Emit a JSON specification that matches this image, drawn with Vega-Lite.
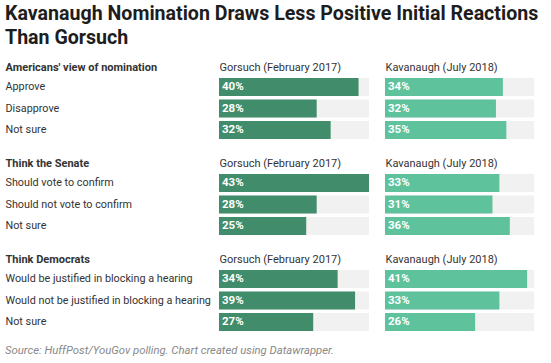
{
  "$schema": "https://vega.github.io/schema/vega-lite/v6.json",
  "padding": {"left": 5, "top": 4, "right": 10, "bottom": 5},
  "background": "white",
  "title": {
    "text": ["Kavanaugh Nomination Draws Less Positive Initial Reactions", "Than Gorsuch"],
    "anchor": "start",
    "fontSize": 19.6,
    "fontWeight": "bold",
    "color": "#1d1d1d",
    "lineHeight": 23.5,
    "offset": 12.5
  },
  "config": {
    "font": "Roboto",
    "view": {"stroke": null},
    "axis": {"grid": false, "domain": false, "ticks": false, "tickSize": 0, "labelFont": "Roboto", "titleFont": "Roboto"},
    "concat": {"spacing": 18}
  },
  "datasets": {
    "polls": [
      {"section": "approve", "answer": "Approve", "candidate": "Gorsuch", "value": 0.40},
      {"section": "approve", "answer": "Disapprove", "candidate": "Gorsuch", "value": 0.28},
      {"section": "approve", "answer": "Not sure", "candidate": "Gorsuch", "value": 0.32},
      {"section": "approve", "answer": "Approve", "candidate": "Kavanaugh", "value": 0.34},
      {"section": "approve", "answer": "Disapprove", "candidate": "Kavanaugh", "value": 0.32},
      {"section": "approve", "answer": "Not sure", "candidate": "Kavanaugh", "value": 0.35},
      {"section": "senate", "answer": "Should vote to confirm", "candidate": "Gorsuch", "value": 0.43},
      {"section": "senate", "answer": "Should not vote to confirm", "candidate": "Gorsuch", "value": 0.28},
      {"section": "senate", "answer": "Not sure", "candidate": "Gorsuch", "value": 0.25},
      {"section": "senate", "answer": "Should vote to confirm", "candidate": "Kavanaugh", "value": 0.33},
      {"section": "senate", "answer": "Should not vote to confirm", "candidate": "Kavanaugh", "value": 0.31},
      {"section": "senate", "answer": "Not sure", "candidate": "Kavanaugh", "value": 0.36},
      {"section": "dems", "answer": "Would be justified in blocking a hearing", "candidate": "Gorsuch", "value": 0.34},
      {"section": "dems", "answer": "Would not be justified in blocking a hearing", "candidate": "Gorsuch", "value": 0.39},
      {"section": "dems", "answer": "Not sure", "candidate": "Gorsuch", "value": 0.27},
      {"section": "dems", "answer": "Would be justified in blocking a hearing", "candidate": "Kavanaugh", "value": 0.41},
      {"section": "dems", "answer": "Would not be justified in blocking a hearing", "candidate": "Kavanaugh", "value": 0.33},
      {"section": "dems", "answer": "Not sure", "candidate": "Kavanaugh", "value": 0.26}
    ]
  },
  "vconcat": [
    {
      "hconcat": [
        {
          "width": 157, "height": 61,
          "data": {"name": "polls"},
          "transform": [{"filter": "datum.section === 'approve' && datum.candidate === 'Gorsuch'"}],
          "encoding": {"y": {"field": "answer", "type": "nominal", "sort": null, "scale": {"paddingInner": 0.17, "paddingOuter": 0},
            "axis": {"title": "Americans' view of nomination", "titleAngle": 0, "titleAlign": "left", "titleBaseline": "alphabetic", "titleX": -214, "titleY": -8, "titleFontWeight": "bold", "titleFontSize": 11, "titleColor": "#333333", "labelAlign": "left", "labelPadding": 214, "labelLimit": 0, "labelFontSize": 10.8, "labelColor": "#333333"}}},
          "layer": [
            {"mark": {"type": "bar", "color": "#f1f1f1"}, "encoding": {"x": {"datum": 0.43, "type": "quantitative", "scale": {"domain": [0, 0.43]},
              "axis": {"orient": "top", "labels": false, "title": "Gorsuch (February 2017)", "titleAnchor": "start", "titleAlign": "left", "titleBaseline": "alphabetic", "titleY": -8, "titleFontWeight": "normal", "titleFontSize": 11, "titleColor": "#333333"}}}},
            {"mark": {"type": "bar", "color": "#418c6a"}, "encoding": {"x": {"field": "value", "type": "quantitative"}}},
            {"mark": {"type": "text", "align": "left", "dx": 3, "color": "white", "fontWeight": "bold", "fontSize": 11.5}, "encoding": {"x": {"datum": 0, "type": "quantitative"}, "text": {"field": "value", "type": "quantitative", "format": ".0%"}}}
          ]
        },
        {
          "width": 156, "height": 61,
          "data": {"name": "polls"},
          "transform": [{"filter": "datum.section === 'approve' && datum.candidate === 'Kavanaugh'"}],
          "encoding": {"y": {"field": "answer", "type": "nominal", "sort": null, "scale": {"paddingInner": 0.17, "paddingOuter": 0}, "axis": null}},
          "layer": [
            {"mark": {"type": "bar", "color": "#f1f1f1"}, "encoding": {"x": {"datum": 0.43, "type": "quantitative", "scale": {"domain": [0, 0.43]},
              "axis": {"orient": "top", "labels": false, "title": "Kavanaugh (July 2018)", "titleAnchor": "start", "titleAlign": "left", "titleBaseline": "alphabetic", "titleY": -8, "titleFontWeight": "normal", "titleFontSize": 11, "titleColor": "#333333"}}}},
            {"mark": {"type": "bar", "color": "#5ec29c"}, "encoding": {"x": {"field": "value", "type": "quantitative"}}},
            {"mark": {"type": "text", "align": "left", "dx": 3, "color": "white", "fontWeight": "bold", "fontSize": 11.5}, "encoding": {"x": {"datum": 0, "type": "quantitative"}, "text": {"field": "value", "type": "quantitative", "format": ".0%"}}}
          ]
        }
      ],
      "spacing": 9
    },
    {
      "hconcat": [
        {
          "width": 157, "height": 61,
          "data": {"name": "polls"},
          "transform": [{"filter": "datum.section === 'senate' && datum.candidate === 'Gorsuch'"}],
          "encoding": {"y": {"field": "answer", "type": "nominal", "sort": null, "scale": {"paddingInner": 0.17, "paddingOuter": 0},
            "axis": {"title": "Think the Senate", "titleAngle": 0, "titleAlign": "left", "titleBaseline": "alphabetic", "titleX": -214, "titleY": -8, "titleFontWeight": "bold", "titleFontSize": 11, "titleColor": "#333333", "labelAlign": "left", "labelPadding": 214, "labelLimit": 0, "labelFontSize": 10.8, "labelColor": "#333333"}}},
          "layer": [
            {"mark": {"type": "bar", "color": "#f1f1f1"}, "encoding": {"x": {"datum": 0.43, "type": "quantitative", "scale": {"domain": [0, 0.43]},
              "axis": {"orient": "top", "labels": false, "title": "Gorsuch (February 2017)", "titleAnchor": "start", "titleAlign": "left", "titleBaseline": "alphabetic", "titleY": -8, "titleFontWeight": "normal", "titleFontSize": 11, "titleColor": "#333333"}}}},
            {"mark": {"type": "bar", "color": "#418c6a"}, "encoding": {"x": {"field": "value", "type": "quantitative"}}},
            {"mark": {"type": "text", "align": "left", "dx": 3, "color": "white", "fontWeight": "bold", "fontSize": 11.5}, "encoding": {"x": {"datum": 0, "type": "quantitative"}, "text": {"field": "value", "type": "quantitative", "format": ".0%"}}}
          ]
        },
        {
          "width": 156, "height": 61,
          "data": {"name": "polls"},
          "transform": [{"filter": "datum.section === 'senate' && datum.candidate === 'Kavanaugh'"}],
          "encoding": {"y": {"field": "answer", "type": "nominal", "sort": null, "scale": {"paddingInner": 0.17, "paddingOuter": 0}, "axis": null}},
          "layer": [
            {"mark": {"type": "bar", "color": "#f1f1f1"}, "encoding": {"x": {"datum": 0.43, "type": "quantitative", "scale": {"domain": [0, 0.43]},
              "axis": {"orient": "top", "labels": false, "title": "Kavanaugh (July 2018)", "titleAnchor": "start", "titleAlign": "left", "titleBaseline": "alphabetic", "titleY": -8, "titleFontWeight": "normal", "titleFontSize": 11, "titleColor": "#333333"}}}},
            {"mark": {"type": "bar", "color": "#5ec29c"}, "encoding": {"x": {"field": "value", "type": "quantitative"}}},
            {"mark": {"type": "text", "align": "left", "dx": 3, "color": "white", "fontWeight": "bold", "fontSize": 11.5}, "encoding": {"x": {"datum": 0, "type": "quantitative"}, "text": {"field": "value", "type": "quantitative", "format": ".0%"}}}
          ]
        }
      ],
      "spacing": 9
    },
    {
      "hconcat": [
        {
          "width": 157, "height": 61,
          "data": {"name": "polls"},
          "title": {"text": "Source: HuffPost/YouGov polling. Chart created using Datawrapper.", "orient": "bottom", "anchor": "start", "frame": "bounds", "fontSize": 11.3, "fontStyle": "italic", "fontWeight": "normal", "color": "#888888", "offset": 14},
          "transform": [{"filter": "datum.section === 'dems' && datum.candidate === 'Gorsuch'"}],
          "encoding": {"y": {"field": "answer", "type": "nominal", "sort": null, "scale": {"paddingInner": 0.17, "paddingOuter": 0},
            "axis": {"title": "Think Democrats", "titleAngle": 0, "titleAlign": "left", "titleBaseline": "alphabetic", "titleX": -214, "titleY": -8, "titleFontWeight": "bold", "titleFontSize": 11, "titleColor": "#333333", "labelAlign": "left", "labelPadding": 214, "labelLimit": 0, "labelFontSize": 10.8, "labelColor": "#333333"}}},
          "layer": [
            {"mark": {"type": "bar", "color": "#f1f1f1"}, "encoding": {"x": {"datum": 0.43, "type": "quantitative", "scale": {"domain": [0, 0.43]},
              "axis": {"orient": "top", "labels": false, "title": "Gorsuch (February 2017)", "titleAnchor": "start", "titleAlign": "left", "titleBaseline": "alphabetic", "titleY": -8, "titleFontWeight": "normal", "titleFontSize": 11, "titleColor": "#333333"}}}},
            {"mark": {"type": "bar", "color": "#418c6a"}, "encoding": {"x": {"field": "value", "type": "quantitative"}}},
            {"mark": {"type": "text", "align": "left", "dx": 3, "color": "white", "fontWeight": "bold", "fontSize": 11.5}, "encoding": {"x": {"datum": 0, "type": "quantitative"}, "text": {"field": "value", "type": "quantitative", "format": ".0%"}}}
          ]
        },
        {
          "width": 156, "height": 61,
          "data": {"name": "polls"},
          "transform": [{"filter": "datum.section === 'dems' && datum.candidate === 'Kavanaugh'"}],
          "encoding": {"y": {"field": "answer", "type": "nominal", "sort": null, "scale": {"paddingInner": 0.17, "paddingOuter": 0}, "axis": null}},
          "layer": [
            {"mark": {"type": "bar", "color": "#f1f1f1"}, "encoding": {"x": {"datum": 0.43, "type": "quantitative", "scale": {"domain": [0, 0.43]},
              "axis": {"orient": "top", "labels": false, "title": "Kavanaugh (July 2018)", "titleAnchor": "start", "titleAlign": "left", "titleBaseline": "alphabetic", "titleY": -8, "titleFontWeight": "normal", "titleFontSize": 11, "titleColor": "#333333"}}}},
            {"mark": {"type": "bar", "color": "#5ec29c"}, "encoding": {"x": {"field": "value", "type": "quantitative"}}},
            {"mark": {"type": "text", "align": "left", "dx": 3, "color": "white", "fontWeight": "bold", "fontSize": 11.5}, "encoding": {"x": {"datum": 0, "type": "quantitative"}, "text": {"field": "value", "type": "quantitative", "format": ".0%"}}}
          ]
        }
      ],
      "spacing": 9
    }
  ]
}
